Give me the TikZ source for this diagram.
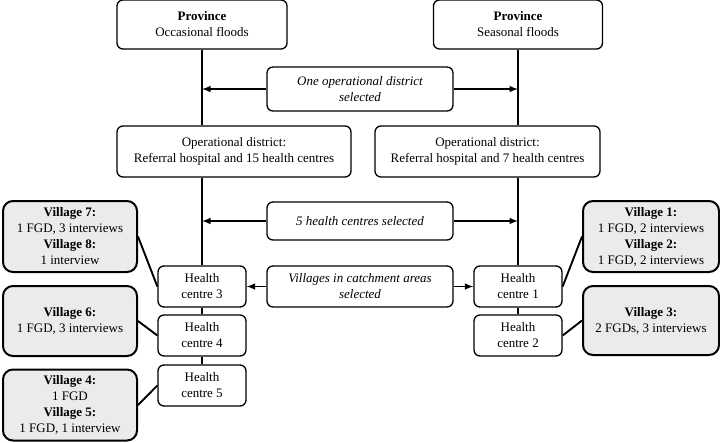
\documentclass[tikz,border=0pt]{standalone}
\usepackage{fontspec}
\setmainfont{Liberation Serif}
\usetikzlibrary{arrows}
\tikzstyle{box}=[draw, line width=1.3pt, rounded corners=6pt, fill=white, align=center, inner sep=0pt, font=\fontsize{13}{16}\selectfont]
\tikzstyle{village}=[box, line width=2pt, rounded corners=10pt, fill=black!8, minimum width=134pt]
\tikzstyle{centre}=[box, minimum width=88pt, minimum height=41pt]
\tikzstyle{selbox}=[box, minimum width=186pt, font=\fontsize{13}{16}\selectfont\itshape]
\tikzstyle{link}=[line width=1.9pt]
\tikzstyle{arr}=[line width=1.9pt, -latex]
\begin{document}
\begin{tikzpicture}[x=1pt, y=-1pt]
\useasboundingbox (0,0) rectangle (720,442);
%
	\node[box, minimum width=170pt, minimum height=49pt] (provL) at (202,24.5) {\textbf{Province}\\Occasional floods};
	\node[box, minimum width=169pt, minimum height=49pt] (provR) at (518,24.5) {\textbf{Province}\\Seasonal floods};
	\node[box, minimum width=234pt, minimum height=51pt] (odL) at (234,151.5) {Operational district:\\Referral hospital and 15 health centres};
	\node[box, minimum width=225pt, minimum height=51pt] (odR) at (487.5,151.5) {Operational district:\\Referral hospital and 7 health centres};
%
	\node[selbox, minimum height=44pt] (selOD) at (360,89) {One operational district\\selected};
	\node[selbox, minimum height=38pt] (selHC) at (360,221) {5 health centres selected};
	\node[selbox, minimum height=41pt] (selV) at (360,286.5) {Villages in catchment areas\\selected};
%
	\node[centre] (hc3) at (202,286.5) {Health\\centre 3};
	\node[centre] (hc4) at (202,335.5) {Health\\centre 4};
	\node[centre] (hc5) at (202,385.5) {Health\\centre 5};
	\node[centre] (hc1) at (518,286.5) {Health\\centre 1};
	\node[centre] (hc2) at (518,335.5) {Health\\centre 2};
%
	\node[village, minimum height=71pt] (v78) at (70,236.5) {\textbf{Village 7:}\\1 FGD, 3 interviews\\\textbf{Village 8:}\\1 interview};
	\node[village, minimum height=70pt] (v6) at (70,321) {\textbf{Village 6:}\\1 FGD, 3 interviews};
	\node[village, minimum height=71pt] (v45) at (70,405) {\textbf{Village 4:}\\1 FGD\\\textbf{Village 5:}\\1 FGD, 1 interview};
	\node[village, minimum width=136pt, minimum height=71pt] (v12) at (651,236.5) {\textbf{Village 1:}\\1 FGD, 2 interviews\\\textbf{Village 2:}\\1 FGD, 2 interviews};
	\node[village, minimum width=136pt, minimum height=69pt] (v3) at (651,320.5) {\textbf{Village 3:}\\2 FGDs, 3 interviews};
%
	\draw[link] (provL.south) -- (provL.south |- odL.north);
	\draw[link] (hc3.north |- odL.south) -- (hc3.north);
	\draw[link] (hc3.south) -- (hc4.north);
	\draw[link] (hc4.south) -- (hc5.north);
	\draw[link] (provR.south) -- (provR.south |- odR.north);
	\draw[link] (hc1.north |- odR.south) -- (hc1.north);
	\draw[link] (hc1.south) -- (hc2.north);
%
	\draw[arr] (selOD.west) -- (selOD.west -| provL.south);
	\draw[arr] (selOD.east) -- (selOD.east -| provR.south);
	\draw[arr] (selHC.west) -- (selHC.west -| hc3.north);
	\draw[arr] (selHC.east) -- (selHC.east -| hc1.north);
	\draw[arr] (selV.west) -- (hc3.east);
	\draw[arr] (selV.east) -- (hc1.west);
%
	\draw[link] (v78.east) -- (hc3.west);
	\draw[link] (v6.east) -- (hc4.west);
	\draw[link] (v45.east) -- (hc5.west);
	\draw[link] (hc1.east) -- (v12.west);
	\draw[link] (hc2.east) -- (v3.west);
\end{tikzpicture}
\end{document}
